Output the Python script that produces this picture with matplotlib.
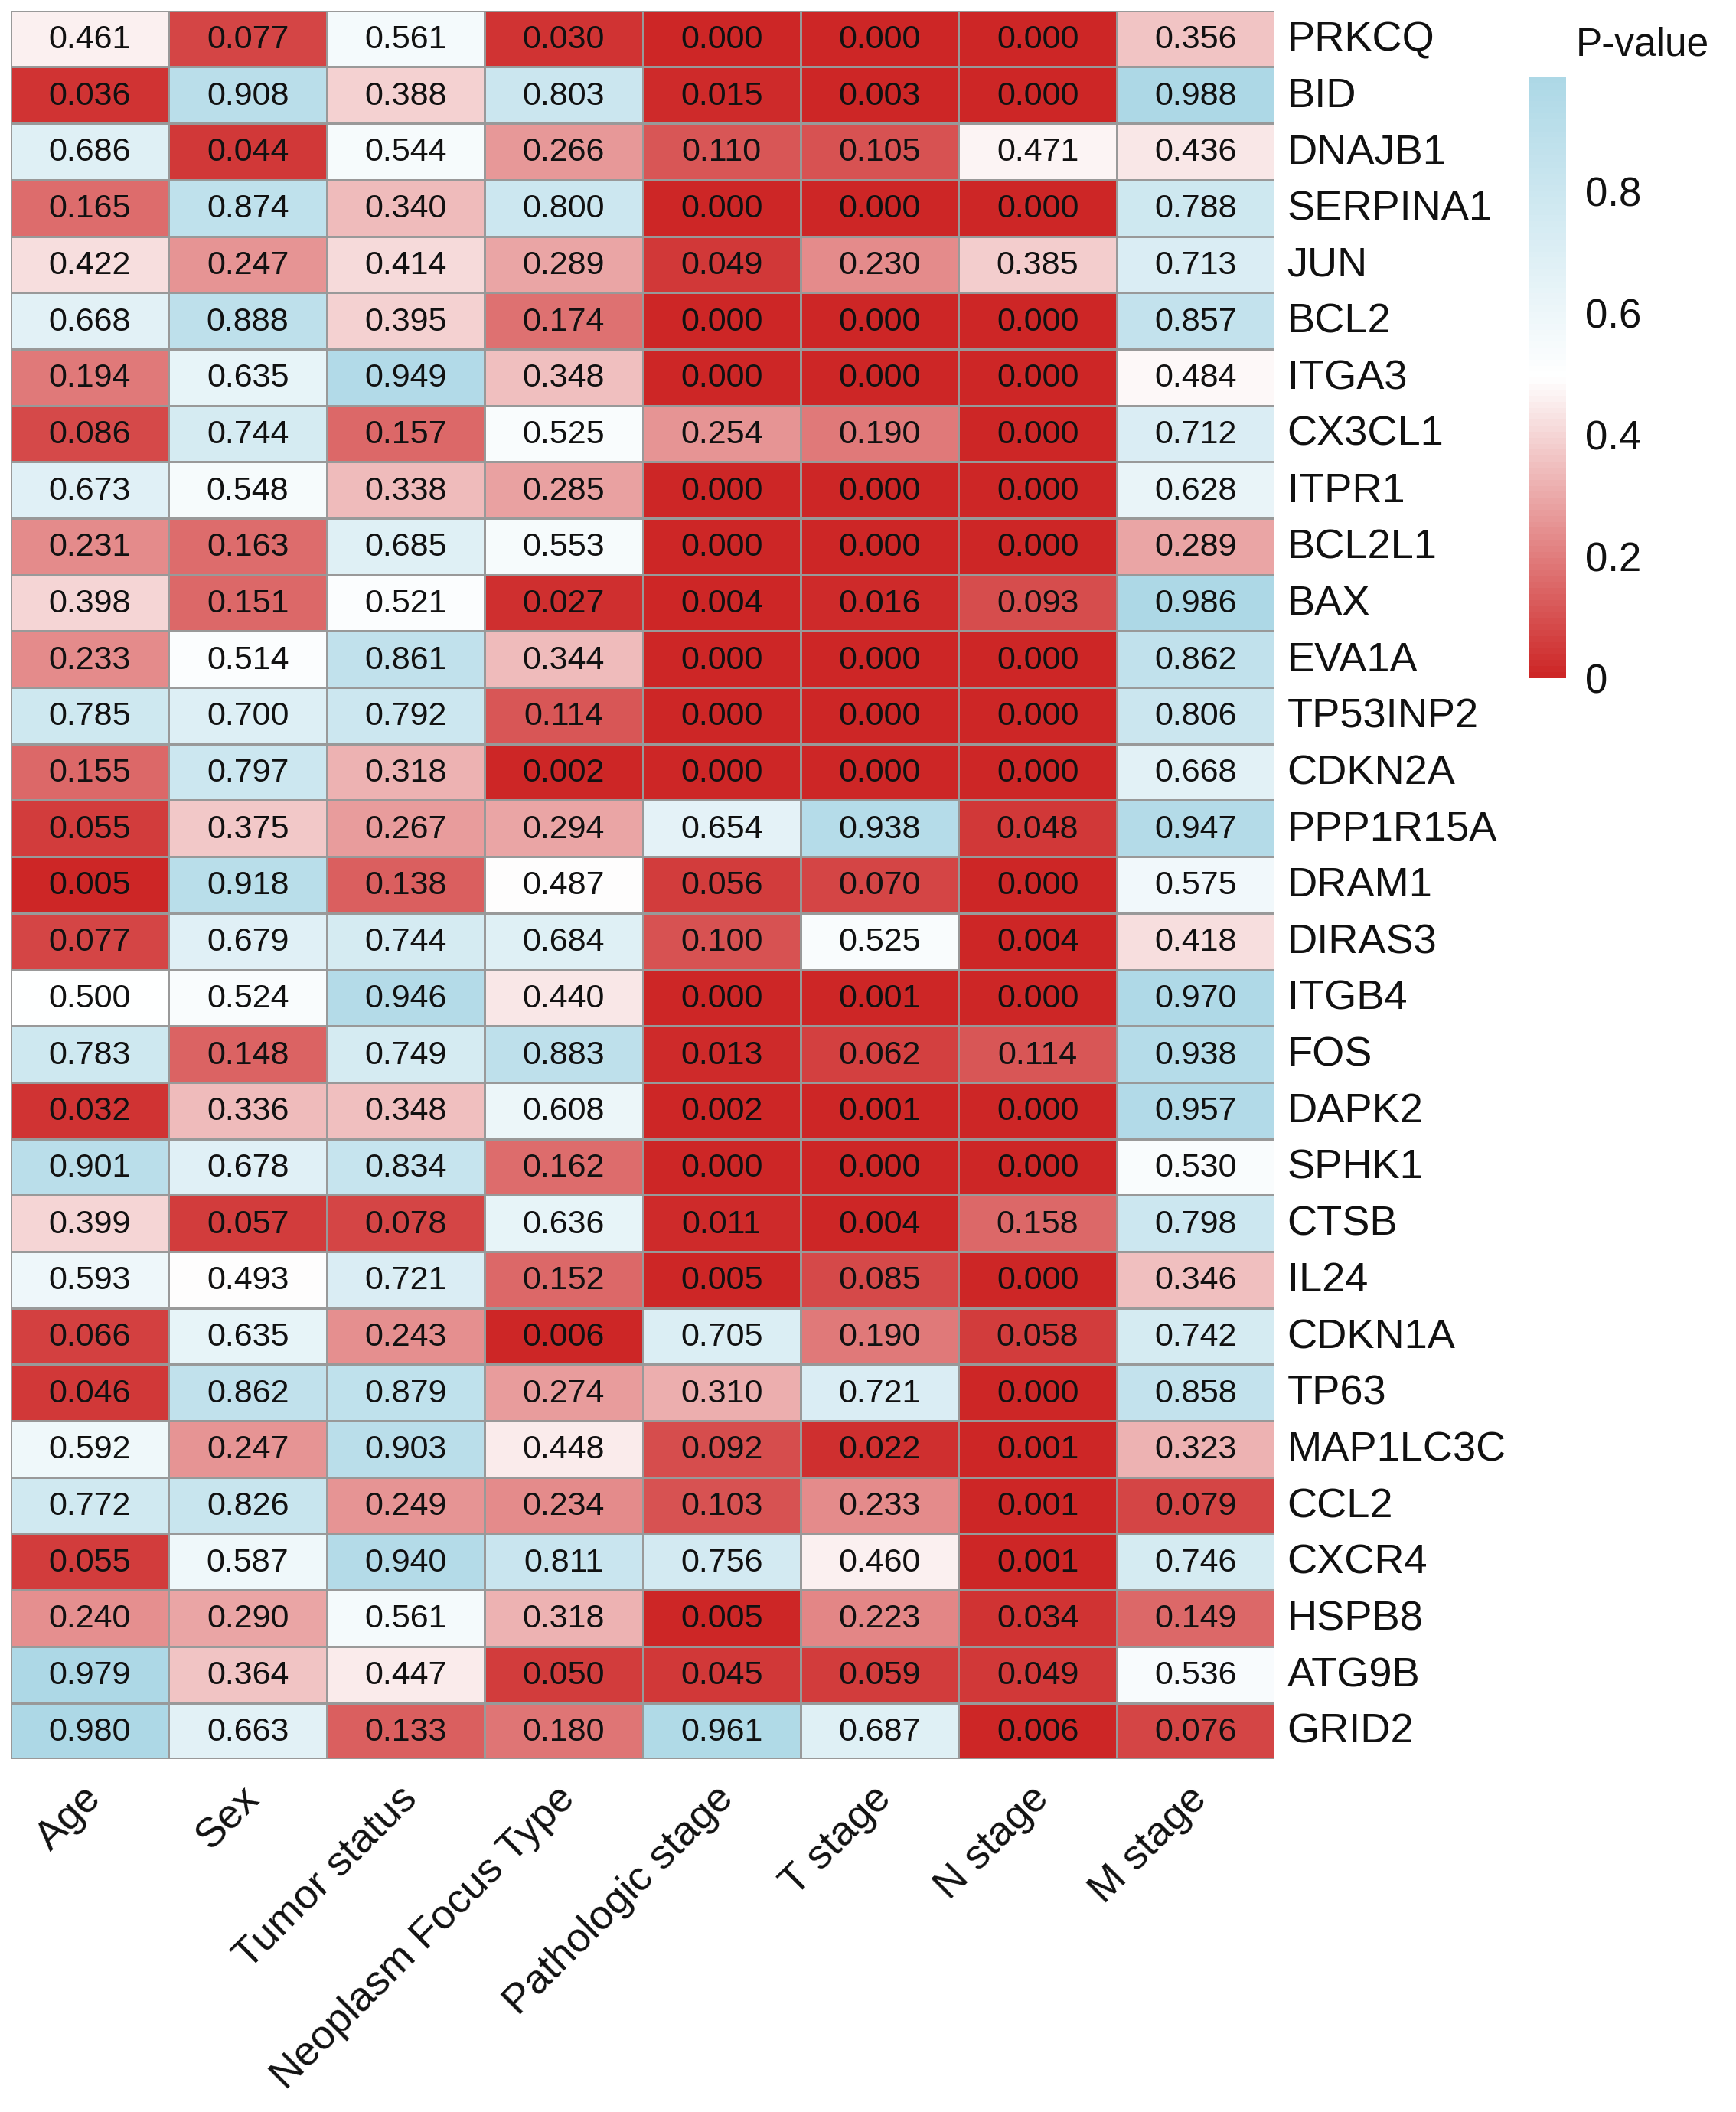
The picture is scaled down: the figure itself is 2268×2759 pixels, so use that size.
import numpy as np
import matplotlib
matplotlib.use("Agg")
import matplotlib.pyplot as plt
from matplotlib.colors import LinearSegmentedColormap

plt.rcParams['font.family'] = ['Liberation Sans', 'DejaVu Sans']

# clinical features (columns) and genes (rows)
features = ["Age", "Sex", "Tumor status", "Neoplasm Focus Type",
            "Pathologic stage", "T stage", "N stage", "M stage"]

genes = ["PRKCQ", "BID", "DNAJB1", "SERPINA1", "JUN", "BCL2", "ITGA3",
         "CX3CL1", "ITPR1", "BCL2L1", "BAX", "EVA1A", "TP53INP2", "CDKN2A",
         "PPP1R15A", "DRAM1", "DIRAS3", "ITGB4", "FOS", "DAPK2", "SPHK1",
         "CTSB", "IL24", "CDKN1A", "TP63", "MAP1LC3C", "CCL2", "CXCR4",
         "HSPB8", "ATG9B", "GRID2"]

# p-values, one list per feature column (top to bottom)
p_age = [0.461, 0.036, 0.686, 0.165, 0.422, 0.668, 0.194, 0.086, 0.673, 0.231,
         0.398, 0.233, 0.785, 0.155, 0.055, 0.005, 0.077, 0.500, 0.783, 0.032,
         0.901, 0.399, 0.593, 0.066, 0.046, 0.592, 0.772, 0.055, 0.240, 0.979,
         0.980]
p_sex = [0.077, 0.908, 0.044, 0.874, 0.247, 0.888, 0.635, 0.744, 0.548, 0.163,
         0.151, 0.514, 0.700, 0.797, 0.375, 0.918, 0.679, 0.524, 0.148, 0.336,
         0.678, 0.057, 0.493, 0.635, 0.862, 0.247, 0.826, 0.587, 0.290, 0.364,
         0.663]
p_tumor = [0.561, 0.388, 0.544, 0.340, 0.414, 0.395, 0.949, 0.157, 0.338, 0.685,
           0.521, 0.861, 0.792, 0.318, 0.267, 0.138, 0.744, 0.946, 0.749, 0.348,
           0.834, 0.078, 0.721, 0.243, 0.879, 0.903, 0.249, 0.940, 0.561, 0.447,
           0.133]
p_focus = [0.030, 0.803, 0.266, 0.800, 0.289, 0.174, 0.348, 0.525, 0.285, 0.553,
           0.027, 0.344, 0.114, 0.002, 0.294, 0.487, 0.684, 0.440, 0.883, 0.608,
           0.162, 0.636, 0.152, 0.006, 0.274, 0.448, 0.234, 0.811, 0.318, 0.050,
           0.180]
p_path = [0.000, 0.015, 0.110, 0.000, 0.049, 0.000, 0.000, 0.254, 0.000, 0.000,
          0.004, 0.000, 0.000, 0.000, 0.654, 0.056, 0.100, 0.000, 0.013, 0.002,
          0.000, 0.011, 0.005, 0.705, 0.310, 0.092, 0.103, 0.756, 0.005, 0.045,
          0.961]
p_t = [0.000, 0.003, 0.105, 0.000, 0.230, 0.000, 0.000, 0.190, 0.000, 0.000,
       0.016, 0.000, 0.000, 0.000, 0.938, 0.070, 0.525, 0.001, 0.062, 0.001,
       0.000, 0.004, 0.085, 0.190, 0.721, 0.022, 0.233, 0.460, 0.223, 0.059,
       0.687]
p_n = [0.000, 0.000, 0.471, 0.000, 0.385, 0.000, 0.000, 0.000, 0.000, 0.000,
       0.093, 0.000, 0.000, 0.000, 0.048, 0.000, 0.004, 0.000, 0.114, 0.000,
       0.000, 0.158, 0.000, 0.058, 0.000, 0.001, 0.001, 0.001, 0.034, 0.049,
       0.006]
p_m = [0.356, 0.988, 0.436, 0.788, 0.713, 0.857, 0.484, 0.712, 0.628, 0.289,
       0.986, 0.862, 0.806, 0.668, 0.947, 0.575, 0.418, 0.970, 0.938, 0.957,
       0.530, 0.798, 0.346, 0.742, 0.858, 0.323, 0.079, 0.746, 0.149, 0.536,
       0.076]

cbar_ticks = [0, 0.2, 0.4, 0.6, 0.8]
cbar_labels = ["0", "0.2", "0.4", "0.6", "0.8"]


def main():
    pvals = np.array([p_age, p_sex, p_tumor, p_focus, p_path, p_t, p_n, p_m]).T
    n_rows, n_cols = pvals.shape

    # firebrick3 -> white -> lightblue, like pheatmap
    cmap = LinearSegmentedColormap.from_list(
        "pv", ["#CD2626", "#FFFFFF", "#ADD8E6"], N=100)
    vmin, vmax = 0.0, pvals.max()

    fig = plt.figure(figsize=(22.68, 27.59), dpi=100)
    ax = fig.add_axes([0.0062, 0.167, 0.728, 0.828])

    mesh = ax.pcolormesh(pvals, cmap=cmap, vmin=vmin, vmax=vmax,
                         edgecolors="#999999", linewidth=2.0)
    ax.set_xlim(0, n_cols)
    ax.set_ylim(n_rows, 0)
    ax.set_axis_off()

    # numbers inside cells
    for i in range(n_rows):
        for j in range(n_cols):
            ax.text(j + 0.5, i + 0.52, f"{pvals[i, j]:.3f}", ha="center",
                    va="center", fontsize=31, color="#111111")

    # gene names on the right
    for i, g in enumerate(genes):
        ax.text(n_cols + 0.08, i + 0.52, g, ha="left", va="center",
                fontsize=39, color="#111111")

    # feature names under the grid
    for j, f in enumerate(features):
        ax.text(j + 0.62, n_rows + 0.35, f, ha="right", va="top",
                rotation=45, fontsize=39, color="#111111")

    # colour legend
    cax = fig.add_axes([0.881, 0.679, 0.021, 0.2844])
    cb = fig.colorbar(mesh, cax=cax, ticks=cbar_ticks)
    cb.outline.set_visible(False)
    cb.ax.tick_params(length=0, pad=18, labelsize=38, colors="#111111")
    cb.ax.set_yticklabels(cbar_labels)
    fig.text(0.9077, 0.9786, "P-value", ha="left", va="center",
             fontsize=37, color="#111111")

    fig.savefig("out.png", dpi=100, facecolor="white")


if __name__ == "__main__":
    main()
